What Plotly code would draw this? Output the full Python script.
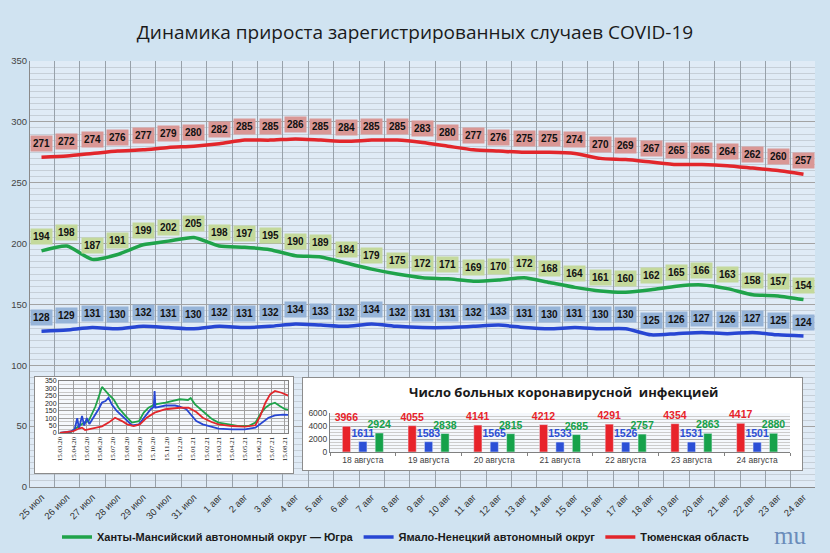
import plotly.graph_objects as go

W, H = 830, 553

# main chart: daily growth, 25 Jul - 24 Aug
days = ["25 июл", "26 июл", "27 июл", "28 июл", "29 июл", "30 июл", "31 июл",
        "1 авг", "2 авг", "3 авг", "4 авг", "5 авг", "6 авг", "7 авг", "8 авг",
        "9 авг", "10 авг", "11 авг", "12 авг", "13 авг", "14 авг", "15 авг",
        "16 авг", "17 авг", "18 авг", "19 авг", "20 авг", "21 авг", "22 авг",
        "23 авг", "24 авг"]
hmao = [194, 198, 187, 191, 199, 202, 205, 198, 197, 195, 190, 189, 184, 179, 175,
        172, 171, 169, 170, 172, 168, 164, 161, 160, 162, 165, 166, 163, 158, 157, 154]
yanao = [128, 129, 131, 130, 132, 131, 130, 132, 131, 132, 134, 133, 132, 134, 132,
         131, 131, 132, 133, 131, 130, 131, 130, 130, 125, 126, 127, 126, 127, 125, 124]
tyumen = [271, 272, 274, 276, 277, 279, 280, 282, 285, 285, 286, 285, 284, 285, 285,
          283, 280, 277, 276, 275, 275, 274, 270, 269, 267, 265, 265, 264, 262, 260, 257]

# bar inset: number of patients
bar_days = ["18 августа", "19 августа", "20 августа", "21 августа",
            "22 августа", "23 августа", "24 августа"]
bar_tyumen = [3966, 4055, 4141, 4212, 4291, 4354, 4417]
bar_yanao = [1611, 1583, 1565, 1533, 1526, 1531, 1501]
bar_hmao = [2924, 2838, 2815, 2685, 2757, 2863, 2880]

# small inset: whole pandemic history
hist_hmao_dates = ["2020-03-15", "2020-04-09", "2020-04-25", "2020-05-10", "2020-05-20",
                   "2020-06-05", "2020-06-20", "2020-06-28", "2020-07-05", "2020-07-17",
                   "2020-07-28", "2020-08-13", "2020-08-28", "2020-09-13", "2020-09-24",
                   "2020-10-05", "2020-10-20", "2020-11-13", "2020-12-05", "2020-12-16",
                   "2021-01-04", "2021-01-10", "2021-01-20", "2021-02-03", "2021-02-15",
                   "2021-03-01", "2021-03-15", "2021-04-08", "2021-05-01", "2021-05-23",
                   "2021-06-08", "2021-06-19", "2021-07-01", "2021-07-12", "2021-07-23",
                   "2021-08-03", "2021-08-15", "2021-08-24"]
hist_hmao = [0, 5, 40, 70, 80, 180, 310, 280, 260, 225, 170, 115, 70, 80, 137, 170, 192,
             205, 220, 227, 222, 235, 193, 160, 126, 92, 70, 58, 47, 47, 70, 126, 170,
             193, 204, 182, 160, 157]

hist_yanao_dates = ["2020-03-15", "2020-04-09", "2020-04-18", "2020-04-24", "2020-04-28",
                    "2020-05-05", "2020-05-10", "2020-05-16", "2020-05-22", "2020-06-05",
                    "2020-06-12", "2020-06-20", "2020-06-28", "2020-07-05", "2020-07-13",
                    "2020-07-24", "2020-08-05", "2020-08-17", "2020-08-28", "2020-09-13",
                    "2020-09-29", "2020-10-10", "2020-10-17", "2020-10-19", "2020-10-21",
                    "2020-11-13", "2020-12-05", "2020-12-16", "2020-12-31", "2021-01-12",
                    "2021-01-23", "2021-02-07", "2021-02-23", "2021-03-15", "2021-04-15",
                    "2021-05-15", "2021-06-08", "2021-06-23", "2021-07-08", "2021-07-23",
                    "2021-08-11", "2021-08-24"]
hist_yanao = [0, 10, 25, 100, 30, 115, 50, 100, 60, 125, 160, 205, 215, 238, 190, 148,
              115, 80, 52, 58, 115, 160, 175, 283, 170, 185, 185, 177, 160, 115, 81, 58,
              43, 29, 25, 25, 36, 70, 103, 119, 124, 122]

hist_tyumen_dates = ["2020-03-15", "2020-04-15", "2020-04-28", "2020-05-05", "2020-05-12",
                     "2020-05-20", "2020-06-05", "2020-06-20", "2020-07-05", "2020-07-20",
                     "2020-08-05", "2020-08-17", "2020-09-01", "2020-09-15", "2020-10-01",
                     "2020-10-19", "2020-11-13", "2020-12-05", "2020-12-16", "2021-01-05",
                     "2021-01-23", "2021-02-07", "2021-02-27", "2021-03-15", "2021-04-15",
                     "2021-05-15", "2021-06-08", "2021-06-19", "2021-07-01", "2021-07-12",
                     "2021-07-23", "2021-08-07", "2021-08-19", "2021-08-24"]
hist_tyumen = [0, 13, 30, 36, 20, 25, 35, 45, 70, 103, 80, 58, 47, 58, 103, 137, 160,
               170, 170, 170, 141, 103, 74, 58, 47, 43, 52, 114, 204, 260, 283, 271, 253, 250]

RED, GREEN, BLUE = "#e2262b", "#1fa34a", "#2746d3"


def fx(px):
    return px / W


def fy(py):
    return 1 - py / H


fig = go.Figure()

# main lines
fig.add_trace(go.Scatter(x=days, y=hmao, mode="lines", name="Ханты-Мансийский автономный округ — Югра",
                         line=dict(color=GREEN, width=3.5, shape="spline", smoothing=0.6)))
fig.add_trace(go.Scatter(x=days, y=yanao, mode="lines", name="Ямало-Ненецкий автономный округ",
                         line=dict(color=BLUE, width=3.5, shape="spline", smoothing=0.6)))
fig.add_trace(go.Scatter(x=days, y=tyumen, mode="lines", name="Тюменская область",
                         line=dict(color=RED, width=3.5, shape="spline", smoothing=0.6)))

# history inset (x3/y3, drawn over its white panel x2/y2)
for dts, vals, col in [(hist_hmao_dates, hist_hmao, GREEN),
                       (hist_yanao_dates, hist_yanao, BLUE),
                       (hist_tyumen_dates, hist_tyumen, RED)]:
    fig.add_trace(go.Scatter(x=dts, y=vals, mode="lines", showlegend=False, hoverinfo="skip",
                             line=dict(color=col, width=1.8), xaxis="x3", yaxis="y3"))

# bar inset (x5/y5, over its white panel x4/y4)
for vals, col in [(bar_tyumen, "#e8232a"), (bar_yanao, "#2b4fd6"), (bar_hmao, "#16a24a")]:
    fig.add_trace(go.Bar(x=bar_days, y=vals, marker_color=col, showlegend=False,
                         text=[str(v) for v in vals], textposition="outside",
                         constraintext="none", cliponaxis=False, textangle=0,
                         textfont=dict(color=col, size=10.5, family="Liberation Sans", weight="bold"),
                         xaxis="x5", yaxis="y5"))

# value labels in the main chart
annotations = []
for vals, bg in [(tyumen, "#d99795"), (hmao, "#c4d99c"), (yanao, "#96b4d8")]:
    for d, v in zip(days, vals):
        annotations.append(dict(x=d, y=v, xref="x", yref="y", text=str(v), showarrow=False,
                                yshift=14, bgcolor=bg, borderpad=2,
                                font=dict(size=10, color="#111111", family="Liberation Sans",
                                          weight="bold")))

annotations.append(dict(x=fx(563), y=fy(392), xref="paper", yref="paper",
                        xanchor="center", yanchor="middle",
                        text="Число больных коронавирусной  инфекцией", showarrow=False,
                        font=dict(size=13, color="#1a1a1a", family="Open Sans", weight="bold")))
annotations.append(dict(x=fx(790), y=fy(535), xref="paper", yref="paper", text="mu",
                        xanchor="center", yanchor="middle", showarrow=False,
                        font=dict(size=25, color="#6a8cba", family="Liberation Serif")))

# white panels behind the insets
shapes = [dict(type="rect", xref=xr, yref=yr, x0=0, x1=1, y0=0, y1=1, layer="below",
               fillcolor="white", line=dict(width=0))
          for xr, yr in [("x2", "y2"), ("x4", "y4")]]

no_margin = dict(automargin=False)
panel_axis = dict(range=[0, 1], showgrid=False, zeroline=False, showticklabels=False,
                  ticks="", showline=True, linecolor="#8c8c8c", mirror=True,
                  fixedrange=True, automargin=False)

fig.update_layout(
    width=W, height=H,
    margin=dict(l=0, r=0, t=0, b=0),
    paper_bgcolor="#d0e3f1",
    plot_bgcolor="rgba(236,243,249,0.55)",
    title=dict(text="Динамика прироста зарегистрированных случаев COVID-19",
               x=fx(415), xanchor="center", y=fy(32), yanchor="middle",
               font=dict(size=19, color="#1a1a1a", family="Open Sans")),
    showlegend=True,
    legend=dict(orientation="h", x=fx(57), xanchor="left", y=fy(537), yanchor="middle",
                bgcolor="rgba(0,0,0,0)",
                font=dict(size=11, color="#1a1a1a", family="Liberation Sans", weight="bold")),
    barmode="group", bargap=0.25, bargroupgap=0.5,
    xaxis=dict(domain=[fx(30), fx(815)], type="category", tickson="boundaries",
               showgrid=True, gridcolor="#98a1aa", gridwidth=1, tickangle=-45, ticks="",
               tickfont=dict(size=9.5, color="#333333", family="Liberation Sans"),
               showline=True, linecolor="#8a8a8a", **no_margin),
    yaxis=dict(domain=[fy(487), fy(61)], range=[0, 350], dtick=50, showgrid=True,
               gridcolor="#a3a3a3", gridwidth=1, ticks="",
               minor=dict(dtick=5, showgrid=True, gridcolor="#c6cfd8", gridwidth=0.6),
               tickfont=dict(size=9.5, color="#444444", family="Liberation Sans"),
               showline=True, linecolor="#8a8a8a", zeroline=False, **no_margin),
    # panel for the history inset
    xaxis2=dict(domain=[fx(35), fx(293)], anchor="y2", **panel_axis),
    yaxis2=dict(domain=[fy(473), fy(377)], anchor="x2", **panel_axis),
    xaxis3=dict(domain=[fx(59), fx(288)], anchor="y3", type="date",
                range=["2020-03-13", "2021-08-22"], tick0="2020-03-15", dtick="M1",
                tickformat="%d.%m.%y", tickangle=-90, ticks="",
                tickfont=dict(size=7, color="#222222", family="Liberation Serif"),
                showgrid=True, gridcolor="#a0a0a0", gridwidth=0.6,
                showline=True, linecolor="#808080", mirror=True, **no_margin),
    yaxis3=dict(domain=[fy(433), fy(381)], anchor="x3", range=[0, 350], dtick=50,
                tickfont=dict(size=7, color="#222222", family="Liberation Sans"), ticks="",
                showgrid=True, gridcolor="#a0a0a0", gridwidth=0.6,
                minor=dict(dtick=25, showgrid=True, gridcolor="#c8c8c8", gridwidth=0.5),
                showline=True, linecolor="#808080", mirror=True, zeroline=False, **no_margin),
    # panel for the bar inset
    xaxis4=dict(domain=[fx(303), fx(802)], anchor="y4", **panel_axis),
    yaxis4=dict(domain=[fy(470), fy(378)], anchor="x4", **panel_axis),
    xaxis5=dict(domain=[fx(330), fx(790)], anchor="y5", type="category",
                tickson="boundaries", ticks="outside", ticklen=3, tickcolor="#808080",
                tickfont=dict(size=8.5, color="#404040", family="Liberation Sans"),
                showline=True, linecolor="#808080", showgrid=False, **no_margin),
    yaxis5=dict(domain=[fy(452), fy(413)], anchor="x5", range=[0, 6000], dtick=2000,
                tickfont=dict(size=8.5, color="#404040", family="Liberation Sans"), ticks="",
                showgrid=True, gridcolor="#a8a8a8", gridwidth=0.8,
                minor=dict(dtick=500, showgrid=True, gridcolor="#cccccc", gridwidth=0.6),
                showline=True, linecolor="#808080", zeroline=False, **no_margin),
    annotations=annotations,
    shapes=shapes,
)

# the page's default body margin would shift the figure by 8px
fig.write_html("out.html", config={"displayModeBar": False},
               post_script="document.body.style.margin = '0px';")
